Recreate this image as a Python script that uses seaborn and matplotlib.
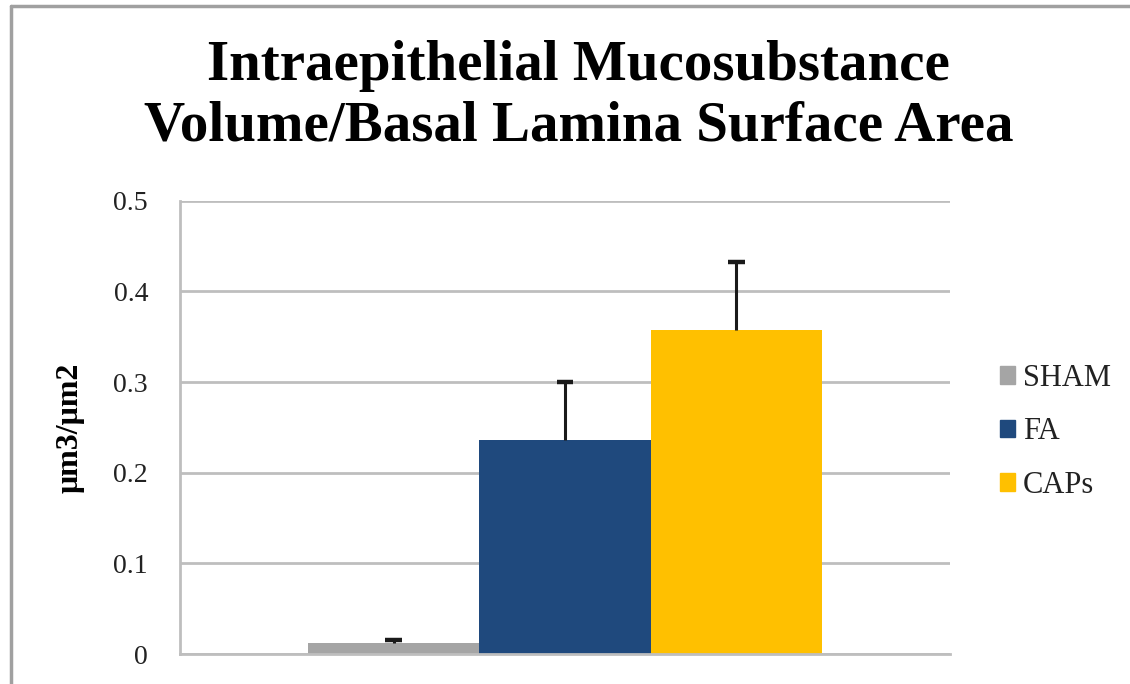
import pandas as pd
import matplotlib
matplotlib.use("Agg")
import matplotlib.pyplot as plt
from matplotlib.lines import Line2D
import seaborn as sns

# Valores.
grupos = ["SHAM", "FA", "CAPs"]
medias = [0.0118, 0.236, 0.357]
erros = [0.0036, 0.064, 0.075]
cores = ["#A5A5A5", "#1F497D", "#FFC000"]
titulo = "Intraepithelial Mucosubstance\nVolume/Basal Lamina Surface Area"
rotulo_y = "\u03bcm3/\u03bcm2"
ticks_y = [0, 0.1, 0.2, 0.3, 0.4, 0.5]
rotulos_ticks = ["0", "0.1", "0.2", "0.3", "0.4", "0.5"]

sns.set_style("white")
plt.rcParams["font.family"] = ["Liberation Serif", "DejaVu Serif"]
plt.rcParams["text.color"] = "black"

dados = pd.DataFrame({"cat": ["x"] * len(grupos), "grupo": grupos, "valor": medias})

fig = plt.figure(figsize=(11.3, 6.84), dpi=100)
ax = fig.add_axes([180 / 1130, 1 - 654 / 684, 770 / 1130, 453.3 / 684])

sns.barplot(data=dados, x="cat", y="valor", hue="grupo", hue_order=grupos,
            palette=cores, width=0.667, saturation=1, linewidth=0, ax=ax, legend=True)

# Barras de erro (somente para cima, com traco no topo).
barras = [p for p in ax.patches if p.get_height() > 0][:len(grupos)]
barras = sorted(barras, key=lambda p: p.get_x())
xs = [p.get_x() + p.get_width() / 2 for p in barras]
topos = [m + e for m, e in zip(medias, erros)]
ax.vlines(xs, medias, topos, color="#1a1a1a", linewidth=2.2, zorder=5)
ax.hlines(topos, [x - 0.011 for x in xs], [x + 0.011 for x in xs],
          color="#1a1a1a", linewidth=3.2, zorder=5)

ax.set_xlim(-0.5, 0.5)
ax.set_ylim(0, 0.5)
ax.set_yticks(ticks_y)
ax.set_yticklabels(rotulos_ticks)
ax.set_xticks([])
ax.set_xlabel("")
ax.yaxis.grid(True, color="#BEBEBE", linewidth=2)
ax.set_axisbelow(True)
ax.tick_params(axis="y", length=0, pad=23, labelsize=20, labelcolor="#222222")
for lado in ["top", "right"]:
    ax.spines[lado].set_visible(False)
for lado in ["left", "bottom"]:
    ax.spines[lado].set_color("#BEBEBE")
    ax.spines[lado].set_linewidth(2)

ax.set_ylabel(rotulo_y, fontsize=23, fontweight="bold", color="black")
ax.yaxis.set_label_coords(-0.124, 0.5)

ax.get_legend().remove()
handles = [plt.Rectangle((0, 0), 1, 1, color=c) for c in cores]
leg = ax.legend(handles, grupos, loc="center left", bbox_to_anchor=(1.065, 0.49),
                frameon=False, fontsize=22, handlelength=0.5, handleheight=0.5,
                handletextpad=0.25, labelspacing=0.8, borderpad=0, borderaxespad=0)
for t in leg.get_texts():
    t.set_color("#222222")

fig.text(0.512, 0.942, titulo, ha="center", va="top", fontsize=41,
         fontweight="bold", linespacing=1.22, color="black")

# Moldura externa do grafico.
fig.add_artist(Line2D([11 / 1130, 11 / 1130], [0, 1 - 6 / 684], color="#A0A0A0", linewidth=2.5))
fig.add_artist(Line2D([11 / 1130, 1], [1 - 6 / 684, 1 - 6 / 684], color="#A0A0A0", linewidth=2.5))

fig.savefig("out.png", dpi=100)
